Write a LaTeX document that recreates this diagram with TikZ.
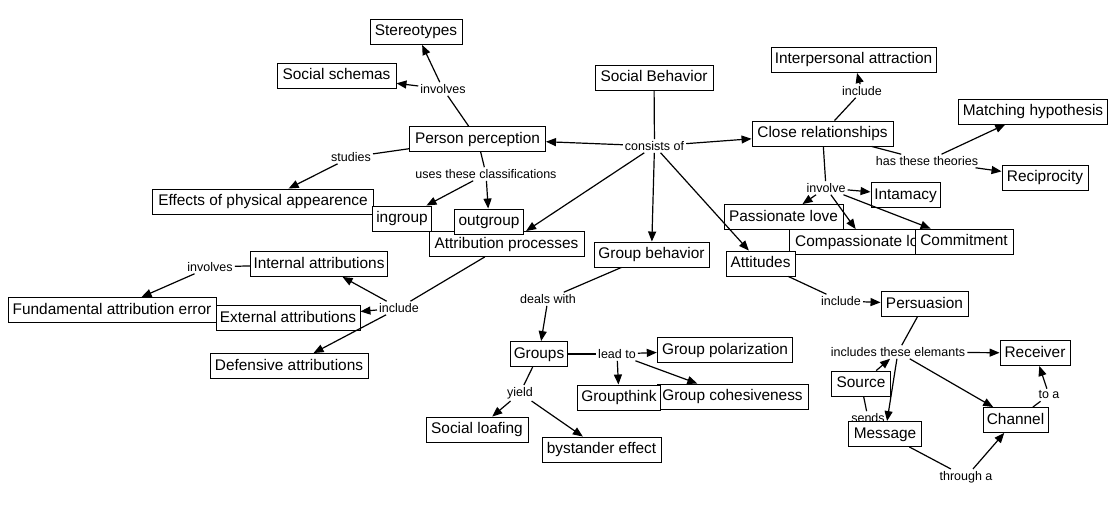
\documentclass[tikz,border=0pt]{standalone}
\usepackage{fontspec}
\setmainfont{Liberation Sans}
\usetikzlibrary{arrows.meta}
\tikzset{
  box/.style={draw=black, fill=white, line width=0.9pt, rectangle, inner xsep=3pt, inner ysep=5pt,
    text height=11.5pt, text depth=3.5pt, font=\fontsize{15.4pt}{18pt}\selectfont},
  lbl/.style={inner sep=2pt, font=\fontsize{12.5pt}{14pt}\selectfont},
  ln/.style={line width=1.2pt},
  ar/.style={line width=1.2pt, -{Triangle[length=10pt,width=8pt]}}
}
\begin{document}
\begin{tikzpicture}[x=1pt,y=-1pt]
\fill[white] (0,0) rectangle (1119,508);
\useasboundingbox (0,0) rectangle (1119,508);
% labels behind boxes
\node[lbl] (l15) at (868,418) {sends};
% boxes
\node[box, minimum width=118] (sb) at (654,78) {Social Behavior};
\node[box, minimum width=92] (st) at (416,32) {Stereotypes};
\node[box, minimum width=119] (ss) at (336.5,76) {Social schemas};
\node[box, minimum width=165] (ia) at (853.5,60) {Interpersonal attraction};
\node[box, minimum width=149] (mh) at (1033,111.5) {Matching hypothesis};
\node[box, minimum width=141] (cr) at (822.5,133.5) {Close relationships};
\node[box, minimum width=86] (rc) at (1045,177.5) {Reciprocity};
\node[box, minimum width=136] (pp) at (477.5,139) {Person perception};
\node[box, minimum width=221] (ef) at (263,201.5) {Effects of physical appearence};
\node[box, minimum width=155] (ap) at (506.5,244) {Attribution processes};
\node[box, minimum width=59.5] (ig) at (402,218.5) {ingroup};
\node[box, minimum width=69.5] (og) at (489,221.5) {outgroup};
\node[box, minimum width=69] (it) at (905.5,195) {Intamacy};
\node[box, minimum width=119] (pl) at (783.5,217) {Passionate love};
\node[box, minimum width=152] (cl) at (865,242) {Compassionate love};
\node[box, minimum width=98] (cm) at (964,241.5) {Commitment};
\node[box, minimum width=115] (gb) at (651.5,254.5) {Group behavior};
\node[box, minimum width=69] (at) at (760.5,263.5) {Attitudes};
\node[box, minimum width=137.5] (ina) at (319,264) {Internal attributions};
\node[box, minimum width=208] (fae) at (112,310) {Fundamental attribution error};
\node[box, minimum width=144] (ea) at (288,318) {External attributions};
\node[box, minimum width=158] (da) at (289,366) {Defensive attributions};
\node[box, minimum width=56] (gr) at (539,354) {Groups};
\node[box, minimum width=135.5] (gp) at (725,350) {Group polarization};
\node[box, minimum width=151] (gc) at (732.5,396.5) {Group cohesiveness};
\node[box, minimum width=83.5] (gt) at (619,397.5) {Groupthink};
\node[box, minimum width=102] (sl) at (477,429.5) {Social loafing};
\node[box, minimum width=119] (be) at (601.5,449.5) {bystander effect};
\node[box, minimum width=87] (ps) at (924.5,304) {Persuasion};
\node[box, minimum width=70] (rv) at (1035,353) {Receiver};
\node[box, minimum width=58.5] (so) at (861,383.5) {Source};
\node[box, minimum width=72.5] (ms) at (885,434) {Message};
\node[box, minimum width=65] (ch) at (1015.5,420) {Channel};
% linking phrases
\node[lbl] (l1) at (654.5,146) {consists of};
\node[lbl] (l2) at (443,89) {involves};
\node[lbl] (l3) at (351,157) {studies};
\node[lbl] (l4) at (486,174) {uses these classifications};
\node[lbl] (l5) at (862,91) {include};
\node[lbl] (l6) at (927,161) {has these theories};
\node[lbl] (l7) at (826,188) {involve};
\node[lbl] (l8) at (399,308) {include};
\node[lbl] (l9) at (210,267) {involves};
\node[lbl] (l10) at (548,299) {deals with};
\node[lbl] (l11) at (617,354) {lead to};
\node[lbl] (l12) at (520,393) {yield};
\node[lbl] (l13) at (841,301) {include};
\node[lbl] (l14) at (898,352) {includes these elemants};
\node[lbl] (l16) at (966,477) {through a};
\node[lbl] (l17) at (1049,395) {to a};
% connectors
\draw[ln] (sb) -- (l1);
\draw[ar] (l1) -- (pp);
\draw[ar] (l1) -- (cr);
\draw[ar] (l1) -- (ap);
\draw[ar] (l1) -- (gb);
\draw[ar] (l1) -- (at);
\draw[ln] (pp) -- (l2);
\draw[ar] (l2) -- (st);
\draw[ar] (l2) -- (ss);
\draw[ln] (pp) -- (l3);
\draw[ar] (l3) -- (ef);
\draw[ln] (pp) -- (l4);
\draw[ar] (l4) -- (ig);
\draw[ar] (l4) -- (og);
\draw[ln] (ap) -- (l8);
\draw[ar] (l8) -- (ina);
\draw[ar] (l8) -- (ea);
\draw[ar] (l8) -- (da);
\draw[ln] (ina) -- (l9);
\draw[ar] (l9) -- (fae);
\draw[ln] (gb) -- (l10);
\draw[ar] (l10) -- (gr);
\draw[ln] (gr) -- (l11);
\draw[ar] (l11) -- (gp);
\draw[ar] (l11) -- (gt);
\draw[ar] (l11) -- (gc);
\draw[ln] (gr) -- (l12);
\draw[ar] (l12) -- (sl);
\draw[ar] (l12) -- (be);
\draw[ln] (cr) -- (l5);
\draw[ar] (l5) -- (ia);
\draw[ln] (cr) -- (l6);
\draw[ar] (l6) -- (mh);
\draw[ar] (l6) -- (rc);
\draw[ln] (cr) -- (l7);
\draw[ar] (l7) -- (it);
\draw[ar] (l7) -- (pl);
\draw[ar] (l7) -- (cl);
\draw[ar] (l7) -- (cm);
\draw[ln] (at) -- (l13);
\draw[ar] (l13) -- (ps);
\draw[ln] (ps) -- (l14);
\draw[ar] (l14) -- (rv);
\draw[ar] (so) -- (l14);
\draw[ar] (l14) -- (ms);
\draw[ar] (l14) -- (ch);
\draw[ln] (so) -- (l15);
\draw[ln] (ms) -- (l16);
\draw[ar] (l16) -- (ch);
\draw[ln] (ch) -- (l17);
\draw[ar] (l17) -- (rv);
\end{tikzpicture}
\end{document}
